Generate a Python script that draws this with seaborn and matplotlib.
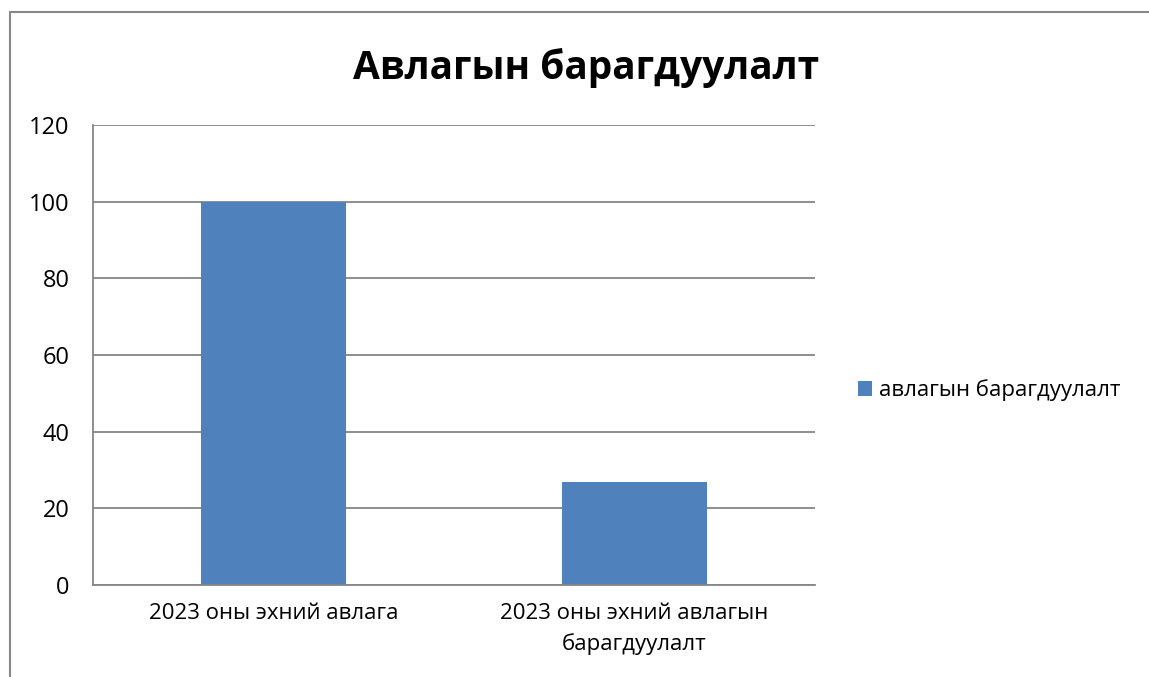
import matplotlib
matplotlib.use("Agg")
import matplotlib.pyplot as plt
import seaborn as sns
import pandas as pd
from matplotlib.lines import Line2D
from matplotlib.ticker import FixedLocator

categories = ["2023 оны эхний авлага", "2023 оны эхний авлагын барагдуулалт"]
tick_labels = ["2023 оны эхний авлага", "2023 оны эхний авлагын\nбарагдуулалт"]
values = [100, 26.8]
series_name = "авлагын барагдуулалт"
title = "Авлагын барагдуулалт"
y_ticks = [0, 20, 40, 60, 80, 100, 120]

sns.set_style("white")
plt.rcParams['font.family'] = ['Open Sans', 'DejaVu Sans']
plt.rcParams['text.color'] = 'black'
plt.rcParams['xtick.color'] = 'black'
plt.rcParams['ytick.color'] = 'black'

df = pd.DataFrame({"category": categories, "value": values, "series": [series_name] * len(categories)})

fig = plt.figure(figsize=(11.49, 6.77), dpi=100)
ax = fig.add_axes([93/1149, 1 - 585/677, (815-93)/1149, (585-125)/677])

bar_color = "#4F81BD"
sns.barplot(data=df, x="category", y="value", hue="series", palette=[bar_color],
            width=0.4, ax=ax, saturation=1, legend=True, linewidth=0)

ax.set_ylim(0, 120)
ax.set_xlim(-0.5, 1.5)
ax.set_yticks(y_ticks)
ax.yaxis.grid(True, color="#868686", linewidth=1.3)
ax.set_axisbelow(True)
ax.set_xlabel("")
ax.set_ylabel("")
ax.set_xticks(range(len(categories)))
ax.set_xticklabels(tick_labels, fontsize=16, linespacing=1.55)
ax.xaxis.set_minor_locator(FixedLocator([-0.5, 0.5, 1.5]))
ax.tick_params(axis="x", which="major", length=0, pad=13, labelcolor="black")
ax.tick_params(axis="x", which="minor", length=8, color="#868686", width=1.3)
ax.tick_params(axis="y", length=8, color="#868686", width=1.3, labelsize=17, pad=9, labelcolor="black")
for s in ["top", "right"]:
    ax.spines[s].set_visible(False)
for s in ["left", "bottom"]:
    ax.spines[s].set_color("#868686")
    ax.spines[s].set_linewidth(1.3)

leg = ax.legend(loc="center left", bbox_to_anchor=(1.047, 0.424), frameon=False, fontsize=16,
                handlelength=0.65, handleheight=0.65, handletextpad=0.3, borderaxespad=0)
for t in leg.get_texts():
    t.set_color("black")

fig.text(0.51, 1 - 68/677, title, fontsize=28, fontweight="bold", ha="center", va="center", color="black")

fig.add_artist(Line2D([10/1149, 10/1149], [0, 1 - 12/677], color="#888888", linewidth=1.5, transform=fig.transFigure))
fig.add_artist(Line2D([10/1149, 1], [1 - 12/677, 1 - 12/677], color="#888888", linewidth=1.5, transform=fig.transFigure))

fig.savefig("out.png", dpi=100)
